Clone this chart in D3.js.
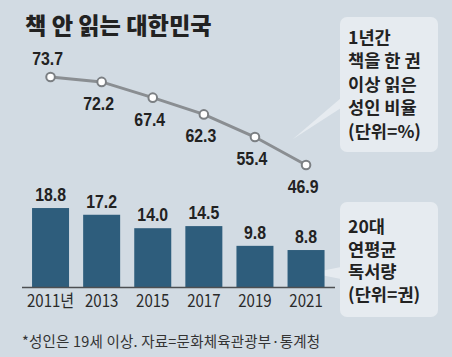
<!DOCTYPE html>
<html><head><meta charset="utf-8">
<script src="https://cdn.jsdelivr.net/npm/d3@7"></script>
<style>
html,body{margin:0;padding:0;background:#d2dbe3;}
svg{display:block;}
</style></head>
<body>
<svg id="c" width="452" height="357"></svg>
<script>
const years = ["2011년","2013","2015","2017","2019","2021"];
const readRate = [73.7, 72.2, 67.4, 62.3, 55.4, 46.9];
const booksPerYear = [18.8, 17.2, 14.0, 14.5, 9.8, 8.8];
const title = "책 안 읽는 대한민국";
const lineNote = ["1년간","책을 한 권","이상 읽은","성인 비율","(단위=%)"];
const barNote = ["20대","연평균","독서량","(단위=권)"];
const footnote = "*성인은 19세 이상. 자료=문화체육관광부·통계청";

const svg = d3.select("#c");
const KR = "'Noto Sans CJK KR','Noto Sans',sans-serif";
const NUM = "'Liberation Sans','Arial',sans-serif";

svg.append("rect").attr("width",452).attr("height",357).attr("fill","#d2dbe3");

// title
svg.append("text").attr("x",25).attr("y",34).text(title)
  .attr("font-family",KR).attr("font-weight",900).attr("font-size",23.2).attr("fill","#222");

const x = d3.scaleBand().domain(years).range([25,331.6]).paddingInner(0.276).paddingOuter(0.138);
const cx = d => x(d) + x.bandwidth()/2;
const yBar = d3.scaleLinear().domain([0,20]).range([287,203]);
const yLine = d3.scaleLinear().domain([40,80]).range([187.6,56.3]);

// callout boxes
function callout(x0,y0,w,h,tail){
  const g = svg.append("g");
  g.append("path").attr("d",tail).attr("fill","#e6ebf0");
  g.append("rect").attr("x",x0).attr("y",y0).attr("width",w).attr("height",h).attr("rx",7).attr("fill","#e6ebf0");
  return g;
}
callout(340,17,98,135,"M341,98 L293,139 L341,108 Z");
callout(340,202,98,115,"M341,267 L311,273 L341,279 Z");

lineNote.forEach((t,i)=>{
  svg.append("text").attr("x",348).attr("y",44+i*23.4).text(t)
    .attr("font-family",KR).attr("font-weight",600).attr("font-size",17.6).attr("fill","#222");
});
barNote.forEach((t,i)=>{
  svg.append("text").attr("x",348).attr("y",233+i*22.7).text(t)
    .attr("font-family",KR).attr("font-weight",600).attr("font-size",17.6).attr("fill","#222");
});

// bars
svg.selectAll("rect.bar").data(booksPerYear).enter().append("rect").attr("class","bar")
  .attr("x",(d,i)=>x(years[i])).attr("width",x.bandwidth())
  .attr("y",d=>yBar(d)).attr("height",d=>yBar(0)-yBar(d)).attr("fill","#2e5d7c");

svg.selectAll("text.bv").data(booksPerYear).enter().append("text").attr("class","bv")
  .attr("transform",(d,i)=>`translate(${cx(years[i])},${yBar(d)-7}) scale(0.88,1)`)
  .attr("text-anchor","middle").text(d=>d.toFixed(1))
  .attr("font-family",NUM).attr("font-weight",700).attr("font-size",18).attr("fill","#222");

// baseline
svg.append("line").attr("x1",22).attr("x2",335).attr("y1",yBar(0)+0.5).attr("y2",yBar(0)+0.5)
  .attr("stroke","#4d4f52").attr("stroke-width",1.5);

// x axis labels
const ax = svg.append("g").attr("transform",`translate(0,${yBar(0)+3})`)
  .call(d3.axisBottom(x).tickSize(0).tickPadding(0));
ax.select(".domain").remove();
ax.selectAll("text").attr("font-family",KR).attr("font-size",17.5).attr("fill","#2a2a2a")
  .attr("dy","0.95em").attr("transform","scale(0.86,1)");

// line
const line = d3.line().x((d,i)=>cx(years[i])).y(d=>yLine(d));
svg.append("path").datum(readRate).attr("d",line).attr("fill","none")
  .attr("stroke","#8a8e92").attr("stroke-width",3);
svg.selectAll("circle.pt").data(readRate).enter().append("circle").attr("class","pt")
  .attr("cx",(d,i)=>cx(years[i])).attr("cy",d=>yLine(d)).attr("r",4.3)
  .attr("fill","#fff").attr("stroke","#7b7f83").attr("stroke-width",2);

svg.selectAll("text.lv").data(readRate).enter().append("text").attr("class","lv")
  .attr("transform",(d,i)=> i===0
      ? `translate(${cx(years[i])-3},${yLine(d)-12}) scale(0.88,1)`
      : `translate(${cx(years[i])-3},${yLine(d)+28}) scale(0.88,1)`)
  .attr("text-anchor","middle").text(d=>d.toFixed(1))
  .attr("font-family",NUM).attr("font-weight",700).attr("font-size",18).attr("fill","#222");

// footnote
svg.append("text").attr("x",22).attr("y",347).text(footnote)
  .attr("font-family",KR).attr("font-size",14.5).attr("letter-spacing",0.2).attr("fill","#333");
</script>
</body></html>
